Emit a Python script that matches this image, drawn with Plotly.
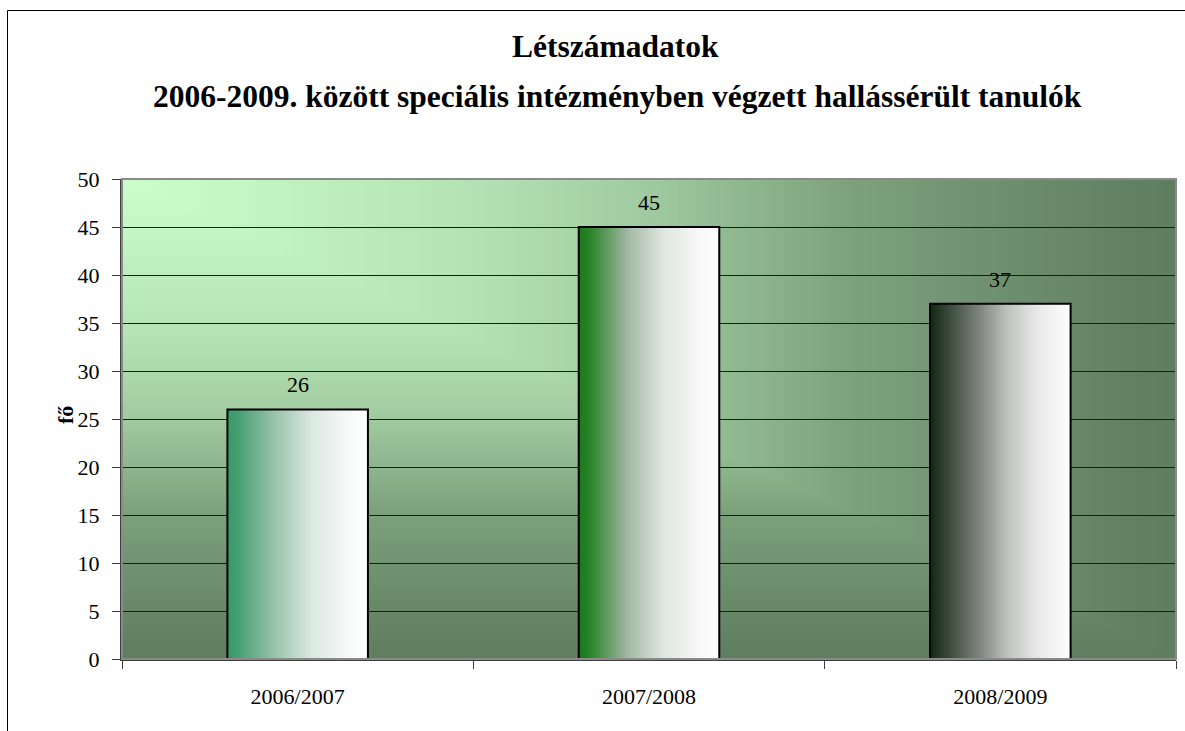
import plotly.graph_objects as go

# ---- data ----
categories = ["2006/2007", "2007/2008", "2008/2009"]
values = [26, 45, 37]
y_ticks = [0, 5, 10, 15, 20, 25, 30, 35, 40, 45, 50]
title_line1 = "Létszámadatok"
title_line2 = "2006-2009. között speciális intézményben végzett hallássérült tanulók"
y_title = "fő"

# ---- styles ----
bar_scales = [
    [[0, "#3a9868"], [0.08, "#46a072"], [0.35, "#9cc5ad"], [0.6, "#dce8e2"], [0.85, "#f6f8f7"], [1, "#ffffff"]],
    [[0, "#1a781a"], [0.08, "#2a842a"], [0.35, "#a3b8a3"], [0.6, "#dfe6df"], [0.85, "#f6f7f6"], [1, "#ffffff"]],
    [[0, "#132613"], [0.08, "#2a3c2a"], [0.35, "#7d847d"], [0.55, "#c0c2c0"], [0.75, "#e6e6e6"], [1, "#ffffff"]],
]
FONT = "Liberation Serif, Times New Roman, serif"
c_light = (204, 255, 204)
c_dark = (95, 125, 95)
ease_t = [0, 0.35, 0.5, 0.7, 0.95, 1.0]
ease_f = [0, 0.23, 0.40, 0.73, 0.96, 1.0]

L, T, W_PLOT, H_PLOT = 122, 179, 1054, 480


def ease(t):
    for i in range(1, len(ease_t)):
        if t <= ease_t[i]:
            a = (t - ease_t[i - 1]) / (ease_t[i] - ease_t[i - 1])
            return ease_f[i - 1] + a * (ease_f[i] - ease_f[i - 1])
    return 1.0


def mix(f):
    return "rgb(%d,%d,%d)" % tuple(round(l + (d - l) * f) for l, d in zip(c_light, c_dark))


fig = go.Figure()

half = 0.2
for i, (cat, v) in enumerate(zip(categories, values)):
    fig.add_trace(go.Scatter(
        x=[i - half, i + half, i + half, i - half, i - half],
        y=[0, 0, v, v, 0],
        mode="lines",
        fill="toself",
        fillgradient=dict(type="horizontal", colorscale=bar_scales[i]),
        line=dict(color="#000000", width=2),
        hoverinfo="skip",
        showlegend=False,
    ))
    fig.add_annotation(x=i, y=v, text=str(v), showarrow=False, yanchor="bottom", yshift=10,
                       font=dict(family=FONT, size=22, color="#000000"))

# background "from corner" gradient
shapes = []
N = 110
for k in range(N, 0, -1):
    t = k / N
    shapes.append(dict(type="rect", xref="x domain", yref="y domain", x0=0, x1=t, y0=1 - t, y1=1,
                       fillcolor=mix(ease(t)), line=dict(width=0), layer="below"))
# plot area border (grey)
shapes.append(dict(type="rect", xref="x domain", yref="y domain", x0=0, x1=1, y0=0, y1=1,
                   line=dict(color="#8a8a8a", width=2), fillcolor="rgba(0,0,0,0)", layer="above"))
# outer chart border
shapes.append(dict(type="rect", xref="paper", yref="paper", x0=(7.5 - L) / W_PLOT, x1=1.2,
                   y0=-0.3, y1=1 + (T - 10.5) / H_PLOT,
                   line=dict(color="#000000", width=1), fillcolor="rgba(0,0,0,0)", layer="above"))

fig.add_annotation(xref="paper", yref="paper", x=(615 - L) / W_PLOT, y=1 + (T - 46) / H_PLOT,
                   text="<b>%s</b>" % title_line1, showarrow=False, xanchor="center", yanchor="middle",
                   font=dict(family=FONT, size=31.5, color="#000000"))
fig.add_annotation(xref="paper", yref="paper", x=(617 - L) / W_PLOT, y=1 + (T - 97) / H_PLOT,
                   text="<b>%s</b>" % title_line2, showarrow=False, xanchor="center", yanchor="middle",
                   font=dict(family=FONT, size=31.5, color="#000000"))
fig.add_annotation(xref="paper", yref="paper", x=(65 - L) / W_PLOT, y=(659 - 415) / H_PLOT,
                   text="<b>%s</b>" % y_title, showarrow=False, textangle=-90,
                   xanchor="center", yanchor="middle",
                   font=dict(family=FONT, size=22, color="#000000"))

fig.update_layout(
    width=1185, height=731,
    margin=dict(l=L, r=9, t=T, b=72, pad=0),
    paper_bgcolor="#ffffff",
    plot_bgcolor="#5f7d5f",
    shapes=shapes,
    font=dict(family=FONT, size=22, color="#000000"),
    showlegend=False,
)
fig.update_xaxes(
    range=[-0.5, len(categories) - 0.5],
    tickmode="array", tickvals=list(range(len(categories))), ticktext=categories,
    ticks="", showgrid=False, zeroline=False,
    showline=True, linecolor="#404040", linewidth=2,
    ticklabelstandoff=17,
    minor=dict(tickmode="array", tickvals=[i - 0.5 for i in range(len(categories) + 1)],
               ticks="outside", ticklen=8, tickcolor="#404040", tickwidth=1, showgrid=False),
    tickfont=dict(family=FONT, size=22, color="#000000"),
    fixedrange=True,
)
fig.update_yaxes(
    range=[0, 50], tickmode="array", tickvals=y_ticks,
    ticks="outside", ticklen=8, tickcolor="#404040", tickwidth=1,
    showgrid=True, gridcolor="#1a1a1a", gridwidth=1, zeroline=False,
    showline=True, linecolor="#404040", linewidth=2,
    ticklabelstandoff=8,
    tickfont=dict(family=FONT, size=22, color="#000000"),
    fixedrange=True,
)

fig.write_html("out.html", config={"displayModeBar": False},
               post_script="document.body.style.margin='0';document.body.style.overflow='hidden';")
